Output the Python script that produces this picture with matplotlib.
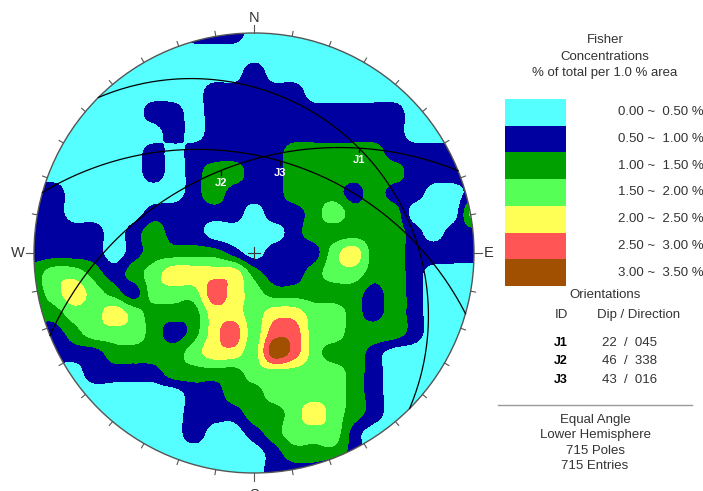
import numpy as np
import matplotlib
matplotlib.use('Agg')
import matplotlib.pyplot as plt
from matplotlib.patches import Circle, Rectangle

plt.rcParams['font.family'] = ['Liberation Sans', 'DejaVu Sans']

# net centre and radius in pixels
CX, CY, R = 254, 253, 220

# Fisher concentration bands (% of total per 1.0 % area)
band_edges = [0.0, 0.5, 1.0, 1.5, 2.0, 2.5, 3.0, 3.5]
band_colors = ['#55ffff', '#0000a0', '#00a000', '#55ff55', '#ffff55', '#ff5555', '#a05000']
band_labels = ['0.00 ~  0.50 %', '0.50 ~  1.00 %', '1.00 ~  1.50 %', '1.50 ~  2.00 %',
               '2.00 ~  2.50 %', '2.50 ~  3.00 %', '3.00 ~  3.50 %']

# band index sampled every 20 px over the net, x from 34, y from 33 (row = y)
density_rows = [
    "00000000111000000000000",
    "00000000000000000000000",
    "00000000000100000000000",
    "00000000011111000000000",
    "00000011011111111110000",
    "00000001011111111110000",
    "00000010111112222211111",
    "00000010122112222221111",
    "11000000121112221211001",
    "11000011111011232220003",
    "11110121100001222221011",
    "11110122221011134221111",
    "23321234444211233221000",
    "23432133354322222121000",
    "22334322244344332121000",
    "11233321245355332221000",
    "11112222344365322100000",
    "00011112222333332100000",
    "00000000112233332100000",
    "00000000111223432100000",
    "00000000100123331000000",
    "00000000000012221000000",
    "00000000000011100000000",
]

# joint sets: dip / dip direction
set_ids = ['J1', 'J2', 'J3']
set_dip = [22, 46, 43]
set_dipdir = [45, 338, 16]

info_lines = ['Equal Angle', 'Lower Hemisphere', '715 Poles', '715 Entries']


def to_px(trend, plunge):
    # equal-angle (stereographic) lower hemisphere
    r = np.tan(np.radians(90 - plunge) / 2)
    t = np.radians(trend)
    return CX + R * r * np.sin(t), CY - R * r * np.cos(t)


def great_circle(dip, dipdir):
    beta = np.linspace(0, 180, 361)
    trend = dipdir - 90 + beta
    plunge = np.degrees(np.arctan(np.tan(np.radians(dip)) * np.sin(np.radians(beta))))
    return to_px(trend, plunge)


def cubic_matrix(coarse, fine):
    n = len(coarse)
    step = coarse[1] - coarse[0]
    M = np.zeros((len(fine), n))
    for r, f in enumerate(fine):
        s = (f - coarse[0]) / step
        i0 = min(int(np.floor(s)), n - 2)
        t = s - i0
        w = [-0.5 * t**3 + t**2 - 0.5 * t,
             1.5 * t**3 - 2.5 * t**2 + 1,
             -1.5 * t**3 + 2 * t**2 + 0.5 * t,
             0.5 * t**3 - 0.5 * t**2]
        for k, wk in zip(range(i0 - 1, i0 + 3), w):
            M[r, min(max(k, 0), n - 1)] += wk
    return M


levels = np.array([[int(c) for c in row] for row in density_rows])
grid = 0.25 + 0.5 * levels
gx = 34 + 20 * np.arange(levels.shape[1])
gy = 33 + 20 * np.arange(levels.shape[0])
fx = np.linspace(gx[0], gx[-1], 221)
fy = np.linspace(gy[0], gy[-1], 221)
Z = cubic_matrix(gy, fy) @ grid @ cubic_matrix(gx, fx).T

fig = plt.figure(figsize=(7.03, 4.91), dpi=100)
ax = fig.add_axes([0, 0, 1, 1])
ax.set_xlim(0, 703)
ax.set_ylim(491, 0)
ax.axis('off')

fill_levels = [-10] + band_edges[1:-1] + [10]
cs = ax.contourf(fx, fy, Z, levels=fill_levels, colors=band_colors)
cs.set_clip_path(Circle((CX, CY), R, transform=ax.transData))

# great circles and their labels
for sid, dip, dd in zip(set_ids, set_dip, set_dipdir):
    x, y = great_circle(dip, dd)
    ax.plot(x, y, color='black', lw=0.9)
    px, py = to_px(dd, dip)
    ax.plot([px, px], [py, py + 4], color='black', lw=0.9)
    ax.text(px, py + 12, sid, color='white', fontsize=8, fontweight='bold',
            ha='center', va='center')

# primitive, ticks, centre cross
ax.add_patch(Circle((CX, CY), R, fill=False, ec='#555555', lw=1.0))
for az in range(0, 360, 10):
    t = np.radians(az)
    L = 8 if az % 90 == 0 else 5
    ax.plot([CX + R * np.sin(t), CX + (R + L) * np.sin(t)],
            [CY - R * np.cos(t), CY - (R + L) * np.cos(t)], color='#555555', lw=0.8)
ax.plot([CX - 6, CX + 6], [CY, CY], color='#333333', lw=0.8)
ax.plot([CX, CX], [CY - 6, CY + 6], color='#333333', lw=0.8)

for lab, x, y in [('N', CX, 18), ('E', 489, CY), ('W', 18, CY), ('S', CX, 495)]:
    ax.text(x, y, lab, fontsize=10.5, color='#333333', ha='center', va='center')

# legend
txt = dict(fontsize=9.5, color='#333333', ha='center', va='center')
ax.text(605, 40, 'Fisher', **txt)
ax.text(605, 57, 'Concentrations', **txt)
ax.text(605, 73, '% of total per 1.0 % area', **txt)

box_top, box_h = 99, 26.7
for k, (c, lab) in enumerate(zip(band_colors, band_labels)):
    y0 = box_top + k * box_h
    ax.add_patch(Rectangle((505, y0), 61, box_h, color=c, lw=0))
    ax.text(618, y0 + box_h / 2, lab, fontsize=9.5, color='#333333', ha='left', va='center')

ax.text(605, 295, 'Orientations', **txt)
ax.text(561, 315, 'ID', **txt)
ax.text(639, 315, 'Dip / Direction', **txt)
for k, (sid, dip, dd) in enumerate(zip(set_ids, set_dip, set_dipdir)):
    y = 343 + k * 18.5
    ax.text(561, y, sid, fontsize=9, fontweight='bold', color='black', ha='center', va='center')
    ax.text(630, y, f'{dip:02d}  /  {dd:03d}', **txt)

ax.plot([498, 692], [405, 405], color='#999999', lw=1)
for k, line in enumerate(info_lines):
    ax.text(595, 420 + k * 15.3, line, **txt)

fig.savefig('out.png', dpi=100)
